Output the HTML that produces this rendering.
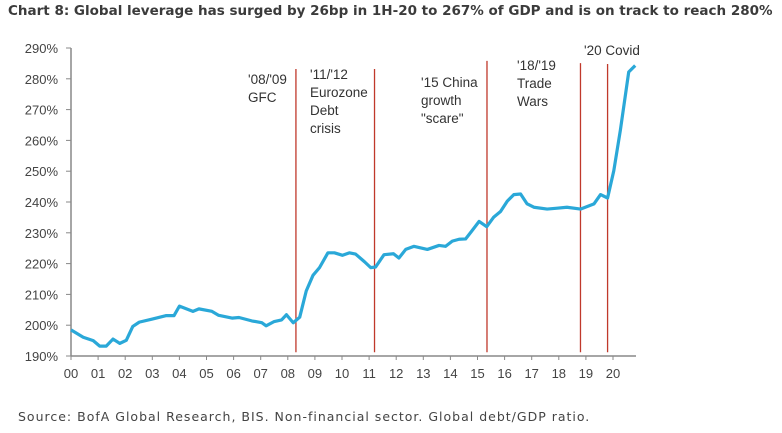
<!DOCTYPE html>
<html><head><meta charset="utf-8"><style>
body{margin:0;background:#fff;width:782px;height:433px;overflow:hidden;font-family:"Liberation Sans",sans-serif;}
.t{position:absolute;left:8px;top:3px;font-family:"DejaVu Sans",sans-serif;font-size:13.5px;font-weight:bold;color:#3b3b3b;white-space:nowrap;}
.s{position:absolute;left:18px;top:409px;font-family:"DejaVu Sans",sans-serif;font-size:12.5px;letter-spacing:1px;color:#444;white-space:nowrap;}
</style></head><body>
<div class="t">Chart 8: Global leverage has surged by 26bp in 1H-20 to 267% of GDP and is on track to reach 280%</div>
<svg id="c" width="782" height="433" style="position:absolute;left:0;top:0"></svg>
<div class="s">Source: BofA Global Research, BIS. Non-financial sector. Global debt/GDP ratio.</div>
<script>
const years=[0,0.45,0.82,1.06,1.3,1.55,1.8,2.04,2.28,2.52,3.0,3.5,3.8,4.0,4.5,4.72,5.2,5.45,5.94,6.2,6.67,7.04,7.2,7.5,7.77,7.95,8.2,8.44,8.68,8.93,9.17,9.48,9.72,10.02,10.27,10.5,10.83,11.06,11.24,11.55,11.9,12.1,12.35,12.65,13.15,13.58,13.82,14.07,14.32,14.56,14.8,15.06,15.34,15.6,15.85,16.1,16.34,16.59,16.83,17.08,17.57,17.94,18.3,18.8,19.3,19.54,19.8,20.03,20.27,20.58,20.82];
const leverage=[198.5,196.1,195,193.2,193.2,195.5,194.1,195.1,199.6,201,202,203.1,203.1,206.2,204.5,205.3,204.5,203.2,202.3,202.5,201.4,200.8,199.8,201.2,201.7,203.4,200.8,202.6,211.1,216.2,218.7,223.5,223.5,222.7,223.5,223.1,220.6,218.7,218.9,222.9,223.2,221.8,224.6,225.6,224.6,225.9,225.6,227.3,227.9,228.0,230.7,233.7,232.0,235.1,236.9,240.3,242.4,242.6,239.4,238.3,237.7,238.0,238.3,237.7,239.4,242.4,241.3,250.2,263.2,282.2,284.3];
const yTicks=[190,200,210,220,230,240,250,260,270,280,290];
const xLabels=["00","01","02","03","04","05","06","07","08","09","10","11","12","13","14","15","16","17","18","19","20"];
const eventYears=[8.3,11.2,15.35,18.8,19.8];
const eventTops=[283.2,283.2,285.8,285.1,284.8];
const svg=document.getElementById('c');const NS='http://www.w3.org/2000/svg';
const X=v=>71+v*27.1, Y=v=>356-(v-190)*3.08;
function mk(t,a,p){const e=document.createElementNS(NS,t);for(const k in a)e.setAttribute(k,a[k]);(p||svg).appendChild(e);return e;}
let e=mk('line',{x1:71,y1:Y(290),x2:71,y2:Y(190),stroke:'#888','stroke-width':1.5});

e=mk('line',{x1:71,y1:Y(190),x2:636,y2:Y(190),stroke:'#888','stroke-width':1.5});

yTicks.forEach(v=>{mk('line',{x1:66,x2:71,y1:Y(v),y2:Y(v),stroke:'#888'});
 e=mk('text',{x:58,y:Y(v)+5,'text-anchor':'end','font-size':13,fill:'#444'});e.textContent=v+'%';
 });
xLabels.forEach((l,i)=>{mk('line',{x1:X(i),x2:X(i),y1:Y(190),y2:Y(190)+4,stroke:'#888'});
 e=mk('text',{x:X(i),y:Y(190)+22,'text-anchor':'middle','font-size':13,fill:'#444'});e.textContent=l;
 });
eventYears.forEach((y,i)=>{e=mk('line',{x1:X(y),x2:X(y),y1:Y(eventTops[i]),y2:Y(191.2),stroke:'#c0392b','stroke-width':1.3});
 });
e=mk('polyline',{points:years.map((y,i)=>X(y)+','+Y(leverage[i])).join(' '),fill:'none',stroke:'#2aa8d8','stroke-width':3.2,'stroke-linejoin':'round'});

const notes=[[248,84,["'08/'09","GFC"]],[310,79,["'11/'12","Eurozone","Debt","crisis"]],[421,87,["'15 China","growth","\"scare\""]],[517,70,["'18/'19","Trade","Wars"]],[584,55,["'20 Covid"]]];
notes.forEach(n=>{n[2].forEach((s,j)=>{e=mk('text',{x:n[0],y:n[1]+j*18,'font-size':13.5,fill:'#333'});e.textContent=s;
 });});
</script>
</body></html>
